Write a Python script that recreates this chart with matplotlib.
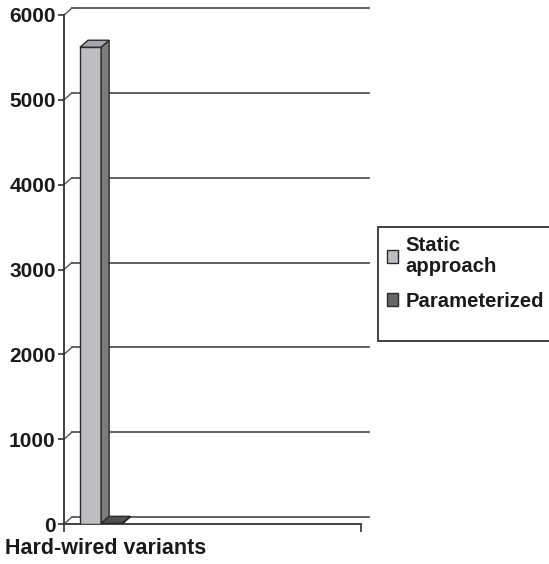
import matplotlib.pyplot as plt
from matplotlib.patches import Polygon, Patch, Rectangle

categories = ['Hard-wired variants']
series_names = ['Static\napproach', 'Parameterized']
static_values = [5620]
param_values = [8]
y_ticks = [0, 1000, 2000, 3000, 4000, 5000, 6000]

plt.rcParams['font.family'] = ['Liberation Sans', 'DejaVu Sans']
plt.rcParams['font.weight'] = 'bold'

front_colors = ['#bebec2', '#666666']
side_colors = ['#7c7c7c', '#4a4a4a']
top_colors = ['#a6a6a8', '#505050']
edge = '#2a2a2a'
text_color = '#1a1a1a'

fig = plt.figure(figsize=(5.49, 5.64), dpi=100)
ax = fig.add_axes([64 / 549, 40 / 564, 297 / 549, 509 / 564])
ax.set_xlim(0, 1)
ax.set_ylim(0, 6000)

# depth of the 3d box in data units
dx = 8 / 297
dy = 7 / 509 * 6000

# back wall gridlines with the little connectors to the axis
for v in y_ticks:
    ax.plot([dx, 1 + dx], [v + dy, v + dy], color='#555555', lw=1.3, clip_on=False, zorder=1)
    ax.plot([0, dx], [v, v + dy], color='#555555', lw=1.0, clip_on=False, zorder=1)

bar_w = 0.071
x_start = 0.054
for i, vals in enumerate([static_values, param_values]):
    for j, v in enumerate(vals):
        x0 = x_start + j + i * bar_w
        x1 = x0 + bar_w
        ax.bar(x0, v, width=bar_w, align='edge', color=front_colors[i],
               edgecolor=edge, linewidth=1.0, zorder=3)
        side = Polygon([(x1, 0), (x1 + dx, dy), (x1 + dx, v + dy), (x1, v)],
                       closed=True, facecolor=side_colors[i], edgecolor=edge,
                       linewidth=1.0, zorder=3, clip_on=False)
        top = Polygon([(x0, v), (x1, v), (x1 + dx, v + dy), (x0 + dx, v + dy)],
                      closed=True, facecolor=top_colors[i], edgecolor=edge,
                      linewidth=1.0, zorder=3, clip_on=False)
        ax.add_patch(side)
        ax.add_patch(top)

for s in ['top', 'right']:
    ax.spines[s].set_visible(False)
for s in ['left', 'bottom']:
    ax.spines[s].set_color('#333333')
    ax.spines[s].set_linewidth(1.3)

ax.set_yticks(y_ticks)
ax.set_yticklabels([str(t) for t in y_ticks], fontsize=15, fontweight='bold', color=text_color)
ax.tick_params(axis='y', direction='out', length=4, width=1.2, color='#333333', pad=2)
ax.set_xticks([0, 1])
ax.set_xticklabels(['', ''])
ax.tick_params(axis='x', direction='out', length=6, width=1.2, color='#333333')

fig.text(5 / 549, 1 - 548 / 564, categories[0], ha='left', va='center',
         fontsize=15.5, fontweight='bold', color=text_color)

# legend box runs off the right edge
fig.patches.append(Rectangle((378 / 549, 1 - 341 / 564), 0.5, 114 / 564,
                             transform=fig.transFigure, facecolor='white',
                             edgecolor='#222222', linewidth=1.2, zorder=0))

handles = [Patch(facecolor=front_colors[0], edgecolor=edge, linewidth=1.0),
           Patch(facecolor=front_colors[1], edgecolor=edge, linewidth=1.0)]
leg = fig.legend(handles, series_names, loc='upper left',
                 bbox_to_anchor=(379 / 549, 1 - 228 / 564),
                 prop={'size': 14.6, 'weight': 'bold'}, frameon=False,
                 handlelength=0.55, handleheight=0.55, handletextpad=0.35,
                 labelspacing=0.75, borderpad=0.4, borderaxespad=0)
for t in leg.get_texts():
    t.set_color(text_color)
    t.set_linespacing(1.15)

fig.savefig('out.png', dpi=100)
